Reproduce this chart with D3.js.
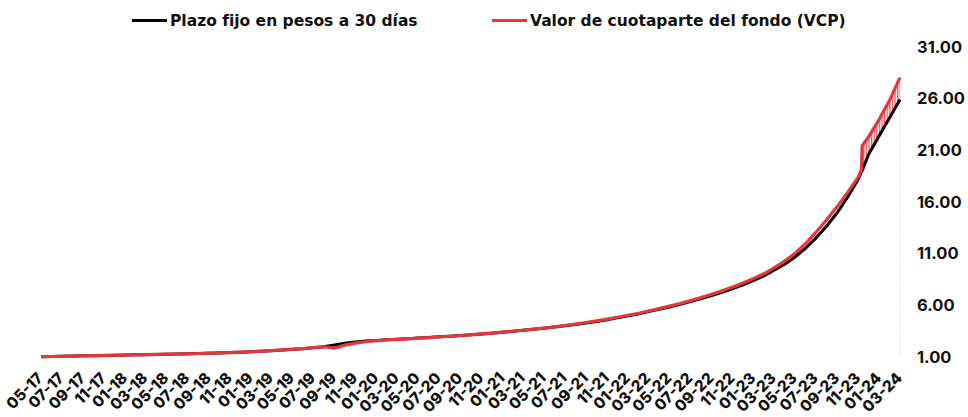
<!DOCTYPE html>
<html lang="es">
<head>
  <meta charset="UTF-8">
  <title>Plazo fijo vs VCP</title>
  <style>
    body { margin: 0; background: #fff; }
    text { font-family: Inter, 'Open Sans', sans-serif; font-weight: 700; fill: #111; }
  </style>
</head>
<body>

  <svg id="svg" width="968" height="417"></svg>

  <script src="https://d3js.org/d3.v7.min.js"></script>
  <script>
    // fechas (incluye dos puntos extra para el salto de nov-23)
    const fechas = [
      '2017-05-01','2017-06-01','2017-07-01','2017-08-01','2017-09-01','2017-10-01','2017-11-01','2017-12-01',
      '2018-01-01','2018-02-01','2018-03-01','2018-04-01','2018-05-01','2018-06-01','2018-07-01','2018-08-01',
      '2018-09-01','2018-10-01','2018-11-01','2018-12-01','2019-01-01','2019-02-01','2019-03-01','2019-04-01',
      '2019-05-01','2019-06-01','2019-07-01','2019-08-01','2019-09-01','2019-10-01','2019-11-01','2019-12-01',
      '2020-01-01','2020-02-01','2020-03-01','2020-04-01','2020-05-01','2020-06-01','2020-07-01','2020-08-01',
      '2020-09-01','2020-10-01','2020-11-01','2020-12-01','2021-01-01','2021-02-01','2021-03-01','2021-04-01',
      '2021-05-01','2021-06-01','2021-07-01','2021-08-01','2021-09-01','2021-10-01','2021-11-01','2021-12-01',
      '2022-01-01','2022-02-01','2022-03-01','2022-04-01','2022-05-01','2022-06-01','2022-07-01','2022-08-01',
      '2022-09-01','2022-10-01','2022-11-01','2022-12-01','2023-01-01','2023-02-01','2023-03-01','2023-04-01',
      '2023-05-01','2023-06-01','2023-07-01','2023-08-01','2023-09-01','2023-10-01','2023-11-01',
      '2023-11-10','2023-11-12',
      '2023-12-01','2024-01-01','2024-02-01','2024-03-01'
    ]

    const plazoFijo = [
      1.00, 1.02, 1.04, 1.06, 1.08, 1.10, 1.12, 1.14,
      1.16, 1.18, 1.20, 1.22, 1.24, 1.26, 1.28, 1.31,
      1.34, 1.37, 1.40, 1.44, 1.48, 1.53, 1.58, 1.64,
      1.71, 1.78, 1.87, 1.97, 2.14, 2.30, 2.42, 2.51,
      2.58, 2.64, 2.69, 2.74, 2.80, 2.86, 2.92, 2.98,
      3.05, 3.12, 3.20, 3.28, 3.37, 3.46, 3.56, 3.66,
      3.76, 3.87, 3.99, 4.12, 4.26, 4.41, 4.58, 4.76,
      4.95, 5.15, 5.36, 5.58, 5.81, 6.06, 6.33, 6.62,
      6.92, 7.24, 7.59, 7.96, 8.38, 8.84, 9.36, 9.95,
      10.65, 11.50, 12.50, 13.65, 14.95, 16.45, 18.20,
      18.90, 19.00,
      20.60, 22.40, 24.20, 25.90
    ]

    const vcp = [
      1.00, 1.02, 1.04, 1.06, 1.08, 1.10, 1.12, 1.14,
      1.16, 1.18, 1.20, 1.22, 1.24, 1.26, 1.28, 1.31,
      1.34, 1.37, 1.40, 1.44, 1.48, 1.53, 1.58, 1.64,
      1.71, 1.78, 1.87, 1.96, 1.84, 2.12, 2.32, 2.46,
      2.55, 2.62, 2.68, 2.73, 2.79, 2.85, 2.92, 2.98,
      3.05, 3.12, 3.20, 3.28, 3.37, 3.46, 3.56, 3.66,
      3.77, 3.89, 4.02, 4.16, 4.31, 4.47, 4.64, 4.82,
      5.01, 5.21, 5.42, 5.65, 5.89, 6.15, 6.43, 6.73,
      7.04, 7.38, 7.74, 8.14, 8.58, 9.05, 9.60, 10.25,
      11.00, 11.95, 13.05, 14.25, 15.55, 16.90, 18.40,
      19.10, 21.40,
      22.30, 24.00, 25.90, 28.00
    ]

    const yTicks = [1, 6, 11, 16, 21, 26, 31]
    const inicioRayado = '2023-11-12'

    const parse = d3.timeParse('%Y-%m-%d')
    const data = fechas.map((f, i) => ({ date: parse(f), pf: plazoFijo[i], vcp: vcp[i] }))

    const xScale = d3.scaleTime()
      .domain(d3.extent(data, d => d.date))
      .range([41, 900])

    const yScale = d3.scaleLinear()
      .domain([1, 31])
      .range([356.7, 46.7])

    const svg = d3.select('#svg')
    const red = '#e2373d'

    // rayas verticales para el area entre las curvas
    const defs = svg.append('defs')
    defs.append('pattern')
      .attr('id', 'rayas')
      .attr('patternUnits', 'userSpaceOnUse')
      .attr('width', 2.6)
      .attr('height', 4)
      .append('rect')
      .attr('x', 0).attr('y', 0)
      .attr('width', 1.3).attr('height', 4)
      .attr('fill', red)
      .attr('opacity', 0.85)

    // --------------- ejes ---------------

    const xTicks = d3.timeMonth.every(2).range(parse('2017-05-01'), parse('2024-03-02'))
    const fmt = d3.timeFormat('%m-%y')

    svg.append('g')
      .selectAll('text')
      .data(xTicks)
      .enter()
      .append('text')
      .attr('transform', d => `translate(${xScale(d) + 3},${379}) rotate(-45)`)
      .attr('text-anchor', 'end')
      .style('font-size', '15.5px')
      .style('font-weight', 800)
      .text(d => fmt(d))

    svg.append('g')
      .selectAll('text')
      .data(yTicks)
      .enter()
      .append('text')
      .attr('x', 917)
      .attr('y', d => yScale(d))
      .attr('dy', '0.36em')
      .style('font-size', '16.5px')
      .text(d => d3.format('.2f')(d))

    // linea punteada vertical al final
    const ultimo = data[data.length - 1]
    svg.append('line')
      .attr('x1', xScale(ultimo.date)).attr('x2', xScale(ultimo.date))
      .attr('y1', yScale(ultimo.vcp)).attr('y2', yScale(1))
      .attr('stroke', '#f2a7b3')
      .attr('stroke-width', 1)
      .attr('stroke-dasharray', '1,2')

    // --------------- series ---------------

    const rayado = data.filter(d => d.date >= parse(inicioRayado))
    svg.append('path')
      .attr('d', d3.area()
        .x(d => xScale(d.date))
        .y0(d => yScale(d.pf))
        .y1(d => yScale(d.vcp))(rayado))
      .attr('fill', 'url(#rayas)')

    svg.append('path')
      .attr('d', d3.line().x(d => xScale(d.date)).y(d => yScale(d.pf))(data))
      .attr('fill', 'none')
      .attr('stroke', '#000')
      .attr('stroke-width', 3)

    svg.append('path')
      .attr('d', d3.line().x(d => xScale(d.date)).y(d => yScale(d.vcp))(data))
      .attr('fill', 'none')
      .attr('stroke', red)
      .attr('stroke-width', 3.2)

    // --------------- leyenda ---------------

    const leyenda = [
      { label: 'Plazo fijo en pesos a 30 días', color: '#000', x: 132 },
      { label: 'Valor de cuotaparte del fondo (VCP)', color: red, x: 492 }
    ]

    const items = svg.append('g')
      .selectAll('g')
      .data(leyenda)
      .enter()
      .append('g')
      .attr('transform', d => `translate(${d.x},20.5)`)

    items.append('line')
      .attr('x1', 0).attr('x2', 35)
      .attr('y1', 0).attr('y2', 0)
      .attr('stroke', d => d.color)
      .attr('stroke-width', 3)

    items.append('text')
      .attr('x', 38)
      .attr('dy', '0.36em')
      .style('font-family', "'DejaVu Sans', sans-serif")
      .style('font-size', '15.5px')
      .text(d => d.label)
  </script>
</body>
</html>
